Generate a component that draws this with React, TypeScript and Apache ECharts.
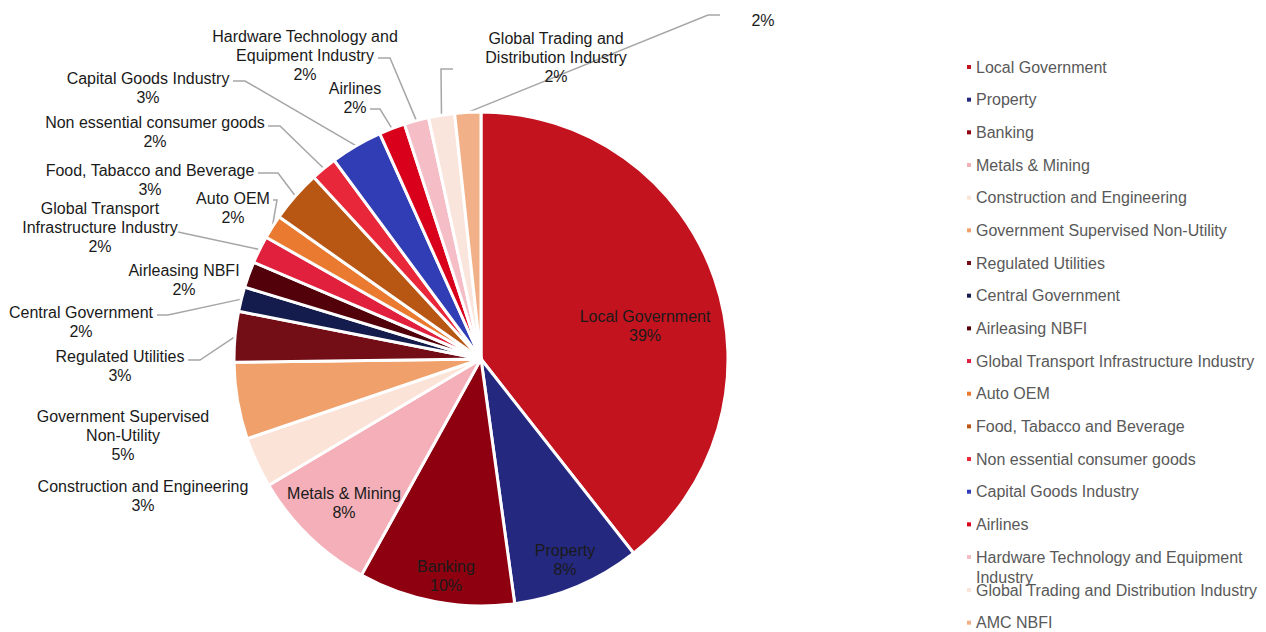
import React, { useEffect, useRef } from 'react';
import * as echarts from 'echarts';

const categories = [
  'Local Government',
  'Property',
  'Banking',
  'Metals & Mining',
  'Construction and Engineering',
  'Government Supervised Non-Utility',
  'Regulated Utilities',
  'Central Government',
  'Airleasing NBFI',
  'Global Transport Infrastructure Industry',
  'Auto OEM',
  'Food, Tabacco and Beverage',
  'Non essential consumer goods',
  'Capital Goods Industry',
  'Airlines',
  'Hardware Technology and Equipment Industry',
  'Global Trading and Distribution Industry',
  'AMC NBFI',
];

// share of exposure, %
const shares = [39.3, 8.4, 10.2, 8.4, 3.3, 5.0, 3.3, 1.6, 1.7, 1.8, 1.55, 3.4, 1.7, 3.4, 1.7, 1.6, 1.7, 1.7];

const colors = [
  '#C3131F', '#24297F', '#8E0010', '#F4AFB8', '#FBE3D8', '#F0A06A',
  '#730D16', '#141B4D', '#52000A', '#E0203C', '#EA7A30', '#B85614',
  '#E8283A', '#303DB5', '#D8001A', '#F5BEC6', '#FAE5DC', '#F2B088',
];

// text shown on the slice labels (line-wrapped as in the reference)
const labelTexts = [
  'Local Government',
  'Property',
  'Banking',
  'Metals & Mining',
  'Construction and Engineering',
  'Government Supervised\nNon-Utility',
  'Regulated Utilities',
  'Central Government',
  'Airleasing NBFI',
  'Global Transport\nInfrastructure Industry',
  'Auto OEM',
  'Food, Tabacco and Beverage',
  'Non essential consumer goods',
  'Capital Goods Industry',
  'Airlines',
  'Hardware Technology and\nEquipment Industry',
  'Global Trading and\nDistribution Industry',
  '',
];

// label placement (layout, not data)
const labelCenters: [number, number][] = [
  [645, 326], [565, 560], [446, 576], [344, 503], [143, 496], [123, 435],
  [120, 366], [81, 322], [184, 280], [100, 227], [233, 208], [150, 180],
  [155, 132], [148, 88], [355, 98], [305, 55], [556, 57], [763, 20],
];

// guide line [end near label, elbow]; null = no guide line
const labelLineEnds: ([number, number][] | null)[] = [
  null, null, null, null, null, null,
  [[188, 360], [200, 360]],
  [[157, 315], [168, 315]],
  null,
  [[178, 232], [178, 232]],
  [[273, 200], [277, 200]],
  [[258, 173], [278, 173]],
  [[268, 126], [280, 126]],
  [[233, 81], [245, 81]],
  [[370, 109], [380, 109]],
  [[378, 58], [390, 58]],
  [[453, 69], [441, 69]],
  [[720, 15], [708, 15]],
];

const FONT = 'Arial, "Liberation Sans", sans-serif';
const HARDWARE = 'Hardware Technology and Equipment Industry';

export default function App() {
  const ref = useRef<HTMLDivElement>(null);

  useEffect(() => {
    if (!ref.current) return;
    const chart = echarts.init(ref.current, undefined, { renderer: 'svg' });

    const legendTextStyle = { color: '#595959', fontSize: 16, lineHeight: 16, fontFamily: FONT };
    const legendBase = {
      orient: 'vertical',
      left: 967,
      padding: 0,
      itemWidth: 4,
      itemHeight: 4,
      itemGap: 16.67,
      icon: 'rect',
      itemStyle: { borderWidth: 0 },
      textStyle: legendTextStyle,
    };

    const option: any = {
      animation: false,
      backgroundColor: '#ffffff',
      legend: [
        { ...legendBase, top: 59, data: categories.slice(0, 15) },
        {
          ...legendBase,
          top: 547,
          itemHeight: 24,
          icon: 'path://M0,0h4v4h-4z M3.99,23.99h0.01v0.01h-0.01z',
          formatter: () => 'Hardware Technology and Equipment\nIndustry',
          textStyle: { ...legendTextStyle, lineHeight: 20 },
          data: [HARDWARE],
        },
        { ...legendBase, top: 582, data: categories.slice(16) },
      ],
      series: [
        {
          type: 'pie',
          center: [481, 359],
          radius: 247,
          startAngle: 90,
          clockwise: true,
          avoidLabelOverlap: false,
          itemStyle: { borderColor: '#ffffff', borderWidth: 3 },
          emphasis: { disabled: true },
          label: {
            show: true,
            position: 'outside',
            fontSize: 16,
            lineHeight: 19,
            color: '#1a1a1a',
            fontFamily: FONT,
            align: 'center',
            formatter: (p: any) => {
              const t = labelTexts[p.dataIndex];
              const pct = Math.round(p.value) + '%';
              return t ? t + '\n' + pct : pct;
            },
          },
          labelLine: {
            show: true,
            length: 10,
            length2: 10,
            lineStyle: { color: '#A6A6A6', width: 1.5 },
          },
          labelLayout: (p: any) => {
            const i = p.dataIndex;
            const c = labelCenters[i];
            const res: any = { x: c[0], y: c[1], align: 'center', verticalAlign: 'middle' };
            const ends = labelLineEnds[i];
            if (ends && p.labelLinePoints && p.labelLinePoints.length) {
              const start = p.labelLinePoints[0];
              res.labelLinePoints = [start, ends[1], ends[0]];
            }
            return res;
          },
          data: categories.map((name, i) => ({
            name,
            value: shares[i],
            itemStyle: { color: colors[i] },
            labelLine: { show: labelLineEnds[i] !== null },
          })),
        },
      ],
    };

    chart.setOption(option);
    return () => chart.dispose();
  }, []);

  return (
    <div
      ref={ref}
      style={{ position: 'fixed', left: 0, top: 0, width: 1266, height: 632, background: '#fff' }}
    />
  );
}
